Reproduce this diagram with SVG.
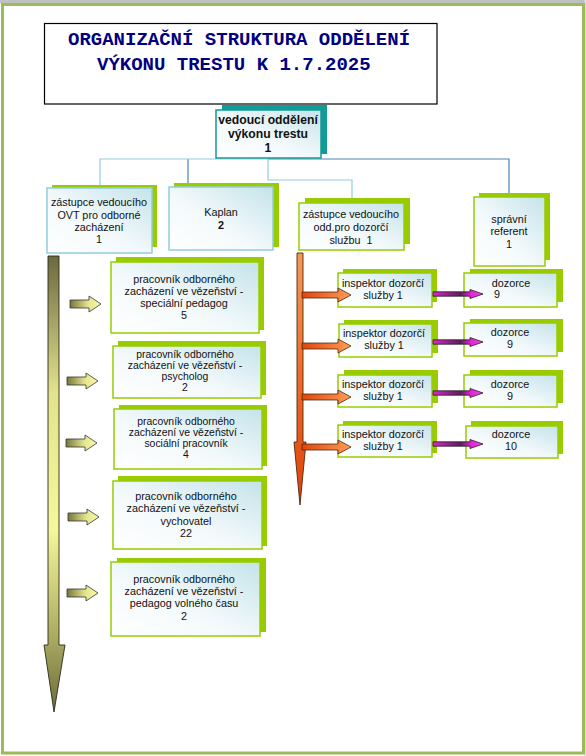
<svg xmlns="http://www.w3.org/2000/svg" xmlns:xlink="http://www.w3.org/1999/xlink" width="586" height="756" viewBox="0 0 586 756">
<defs>
<linearGradient id="bf" x1="0" y1="1" x2="1" y2="0">
<stop offset="0" stop-color="#ffffff"/>
<stop offset="0.45" stop-color="#f3f9fb"/>
<stop offset="1" stop-color="#c4e3ea"/>
</linearGradient>
<linearGradient id="olive" gradientUnits="userSpaceOnUse" x1="0" y1="256" x2="0" y2="712">
<stop offset="0" stop-color="#6c6840"/>
<stop offset="0.3" stop-color="#e3e38e"/>
<stop offset="0.6" stop-color="#f6f69a"/>
<stop offset="0.82" stop-color="#b0b066"/>
<stop offset="1" stop-color="#6c6c3a"/>
</linearGradient>
<linearGradient id="ylw" x1="0" y1="0" x2="1" y2="0">
<stop offset="0" stop-color="#77773e"/>
<stop offset="0.6" stop-color="#e6e690"/>
<stop offset="1" stop-color="#f8f8a8"/>
</linearGradient>
<linearGradient id="org" x1="0" y1="0" x2="1" y2="0">
<stop offset="0" stop-color="#e0450c"/>
<stop offset="1" stop-color="#ff9c55"/>
</linearGradient>
<linearGradient id="orgv" gradientUnits="userSpaceOnUse" x1="0" y1="253" x2="0" y2="505">
<stop offset="0" stop-color="#f59a55"/>
<stop offset="0.5" stop-color="#ee6a25"/>
<stop offset="1" stop-color="#e0400a"/>
</linearGradient>
<linearGradient id="mag" x1="0" y1="0" x2="1" y2="0">
<stop offset="0" stop-color="#e022d2"/>
<stop offset="0.55" stop-color="#5a1f5a"/>
<stop offset="0.75" stop-color="#e022d2"/>
<stop offset="1" stop-color="#ff44ee"/>
</linearGradient>
<path id="ya" d="M0,-4 H19 V-8 L31,0 L19,8 V4 H0 Z"/>
<path id="oa" d="M0,-3 H36 V-7 L49,0 L36,7 V3 H0 Z"/>
<path id="ma" d="M0,-2.2 H37 V-4.5 L50,0 L37,4.5 V2.2 H0 Z"/>
</defs>
<style>
text{font-family:"Liberation Sans",Arial,sans-serif;font-size:10.8px;fill:#111;text-anchor:middle;white-space:pre}
.title{font-family:"Liberation Mono","Courier New",monospace;font-size:19px;font-weight:bold;fill:#000080;text-anchor:start}
.b{font-weight:bold}
.tb{font-weight:bold;font-size:12.2px}
.sm{font-size:10.4px}
.sg{fill:#99cc00}
.st{fill:#139b98}
.fg{fill:url(#bf);stroke:#99cc00;stroke-width:1.5}
.fb{fill:url(#bf);stroke:#92cddc;stroke-width:1.5}
.ft{fill:url(#bf);stroke:#139b98;stroke-width:1.5}
.ln{fill:none;stroke-width:1.2}
.lb{stroke:#93cddd}
.db{stroke:#4f81bd}
.ya{fill:url(#ylw);stroke:#333;stroke-width:0.8}
.oa{fill:url(#org);stroke:#4a2a10;stroke-width:0.8}
.ma{fill:url(#mag);stroke:#222;stroke-width:0.8}
</style>

<rect x="0" y="0" width="586" height="756" fill="#ffffff"/>
<rect x="0" y="0" width="586" height="3.5" fill="#c0c0c0"/>
<rect x="584.5" y="0" width="1.5" height="756" fill="#dedede"/>
<rect x="2.5" y="4.5" width="581" height="748.5" fill="none" stroke="#9bbb59" stroke-width="3"/>

<g id="title">
<rect x="44.5" y="23.5" width="392.5" height="80.5" fill="#ffffff" stroke="#000" stroke-width="1.2"/>
<text class="title" x="68" y="45">ORGANIZAČNÍ STRUKTURA ODDĚLENÍ</text>
<text class="title" x="97" y="70">VÝKONU TRESTU K 1.7.2025</text>
</g>

<g id="connectors">
<path class="ln db" d="M268,159 H509 V197"/>
<path class="ln db" d="M188,159 V183"/>
<path class="ln lb" d="M100,186 V159 H268"/>
<path class="ln lb" d="M268,159 V180 H352 V198"/>
</g>

<g id="n-vedouci">
<rect class="st" x="222" y="105" width="105" height="49"/>
<rect class="ft" x="216" y="110" width="105" height="48"/>
<text class="tb" x="268" y="124">vedoucí oddělení</text>
<text class="tb" x="268" y="138">výkonu trestu</text>
<text class="tb" x="268" y="152">1</text>
</g>

<g id="n-zastupce-ovt">
<rect class="sg" x="52" y="185" width="105" height="62"/>
<rect class="fb" x="47" y="188" width="105" height="65"/>
<text x="99" y="206">zástupce vedoucího</text>
<text x="99" y="219">OVT pro odborné</text>
<text x="99" y="231">zacházení</text>
<text x="99" y="243">1</text>
</g>

<g id="n-kaplan">
<rect class="sg" x="174" y="183" width="105" height="64"/>
<rect class="fb" x="169" y="187" width="104" height="63"/>
<text x="221" y="216">Kaplan</text>
<text class="b" x="221" y="229">2</text>
</g>

<g id="n-zastupce-dozor">
<rect class="sg" x="305" y="198" width="105" height="46"/>
<rect class="fg" x="299" y="203" width="105" height="47"/>
<text x="351" y="218">zástupce vedoucího</text>
<text x="351" y="231">odd.pro dozorčí</text>
<text x="351" y="244">službu  1</text>
</g>

<g id="n-spravni">
<rect class="sg" x="479" y="193" width="71" height="67"/>
<rect class="fg" x="474" y="197" width="71" height="69"/>
<text x="509" y="223">správní</text>
<text x="509" y="235">referent</text>
<text x="509" y="248">1</text>
</g>

<g id="left-arrow">
<path d="M48,256 H59 V645 H65 L54,712 L44,645 H48 Z" fill="url(#olive)" stroke="#2a2a1a" stroke-width="0.9"/>
<use href="#ya" class="ya" x="70" y="304"/>
<use href="#ya" class="ya" x="67" y="381"/>
<use href="#ya" class="ya" x="66" y="443"/>
<use href="#ya" class="ya" x="68" y="517"/>
<use href="#ya" class="ya" x="67" y="593"/>
</g>

<g id="n-specialni-pedagog">
<rect class="sg" x="116" y="257" width="148" height="73"/>
<rect class="fg" x="111" y="262" width="148" height="71"/>
<text x="184" y="283">pracovník odborného</text>
<text x="184" y="295">zacházení ve vězeňství -</text>
<text x="184" y="307">speciální pedagog</text>
<text x="184" y="319">5</text>
</g>

<g id="n-psycholog">
<rect class="sg" x="118" y="341" width="148" height="54"/>
<rect class="fg" x="113" y="346" width="148" height="52"/>
<text class="sm" x="185" y="358">pracovník odborného</text>
<text class="sm" x="185" y="369">zacházení ve vězeňství -</text>
<text class="sm" x="185" y="380">psycholog</text>
<text class="sm" x="185" y="391">2</text>
</g>

<g id="n-socialni">
<rect class="sg" x="119" y="405" width="148" height="61"/>
<rect class="fg" x="114" y="409" width="148" height="60"/>
<text class="sm" x="186" y="425">pracovník odborného</text>
<text class="sm" x="186" y="436">zacházení ve vězeňství -</text>
<text class="sm" x="186" y="447">sociální pracovník</text>
<text class="sm" x="186" y="458">4</text>
</g>

<g id="n-vychovatel">
<rect class="sg" x="118" y="476" width="149" height="70"/>
<rect class="fg" x="113" y="481" width="149" height="68"/>
<text x="186" y="500">pracovník odborného</text>
<text x="186" y="512">zacházení ve vězeňství -</text>
<text x="186" y="525">vychovatel</text>
<text x="186" y="537">22</text>
</g>

<g id="n-pedagog-volneho-casu">
<rect class="sg" x="117" y="558" width="149" height="74"/>
<rect class="fg" x="111" y="562" width="149" height="74"/>
<text x="184" y="583">pracovník odborného</text>
<text x="184" y="595">zacházení ve vězeňství -</text>
<text x="184" y="607">pedagog volného času</text>
<text x="184" y="620">2</text>
</g>

<g id="n-inspektor-1">
<rect class="sg" x="343" y="269" width="94" height="33"/>
<rect class="fg" x="338" y="273" width="94" height="34"/>
<text x="383" y="287">inspektor dozorčí</text>
<text x="383" y="299">služby 1</text>
</g>
<g id="n-inspektor-2">
<rect class="sg" x="344" y="320" width="94" height="33"/>
<rect class="fg" x="339" y="324" width="93" height="33"/>
<text x="384" y="337">inspektor dozorčí</text>
<text x="384" y="349">služby 1</text>
</g>
<g id="n-inspektor-3">
<rect class="sg" x="344" y="370" width="94" height="33"/>
<rect class="fg" x="338" y="375" width="94" height="32"/>
<text x="383" y="388">inspektor dozorčí</text>
<text x="383" y="400">služby 1</text>
</g>
<g id="n-inspektor-4">
<rect class="sg" x="343" y="421" width="94" height="32"/>
<rect class="fg" x="338" y="425" width="94" height="32"/>
<text x="383" y="438">inspektor dozorčí</text>
<text x="383" y="450">služby 1</text>
</g>

<g id="n-dozorce-1">
<rect class="sg" x="470" y="269" width="93" height="33"/>
<rect class="fg" x="464" y="273" width="93" height="34"/>
<text x="511" y="287">dozorce</text>
<text x="497" y="298">9</text>
</g>
<g id="n-dozorce-2">
<rect class="sg" x="470" y="319" width="93" height="33"/>
<rect class="fg" x="464" y="323" width="93" height="33"/>
<text x="510" y="336">dozorce</text>
<text x="510" y="348">9</text>
</g>
<g id="n-dozorce-3">
<rect class="sg" x="470" y="370" width="93" height="33"/>
<rect class="fg" x="464" y="375" width="93" height="32"/>
<text x="510" y="388">dozorce</text>
<text x="510" y="400">9</text>
</g>
<g id="n-dozorce-4">
<rect class="sg" x="471" y="421" width="92" height="33"/>
<rect class="fg" x="466" y="426" width="92" height="32"/>
<text x="511" y="438">dozorce</text>
<text x="511" y="450">10</text>
</g>

<g id="right-arrows">
<path d="M297,253 H303 V442 H306 L300,505 L294,442 H297 Z" fill="url(#orgv)" stroke="#4a2a10" stroke-width="0.9"/>
<use href="#oa" class="oa" x="302" y="295"/>
<use href="#oa" class="oa" x="302" y="346"/>
<use href="#oa" class="oa" x="302" y="397"/>
<use href="#oa" class="oa" x="302" y="447"/>
<use href="#ma" class="ma" x="433" y="294"/>
<use href="#ma" class="ma" x="433" y="342"/>
<use href="#ma" class="ma" x="433" y="393"/>
<use href="#ma" class="ma" x="433" y="444"/>
</g>
</svg>
